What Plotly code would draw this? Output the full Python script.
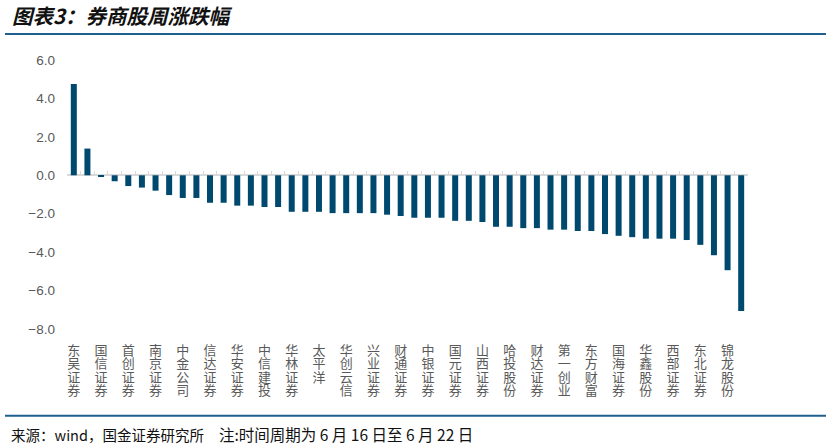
import plotly.graph_objects as go

# ---- data ----
labels = ["东吴证券", "国信证券", "首创证券", "南京证券", "中金公司", "信达证券", "华安证券",
          "中信建投", "华林证券", "太平洋", "华创云信", "兴业证券", "财通证券", "中银证券",
          "国元证券", "山西证券", "哈投股份", "财达证券", "第一创业", "东方财富", "国海证券",
          "华鑫股份", "西部证券", "东北证券", "锦龙股份"]
values = [4.75, 1.39, -0.09, -0.31, -0.56, -0.64, -0.80, -1.03, -1.18, -1.18,
          -1.43, -1.43, -1.58, -1.58, -1.65, -1.65, -1.90, -1.90, -1.90, -1.97,
          -1.97, -1.97, -1.97, -2.05, -2.12, -2.21, -2.21, -2.21, -2.37, -2.37,
          -2.43, -2.68, -2.68, -2.75, -2.75, -2.83, -2.83, -2.90, -2.90, -3.06,
          -3.15, -3.22, -3.30, -3.30, -3.30, -3.37, -3.62, -4.16, -4.94, -7.06]
y_ticks = [-8, -6, -4, -2, 0, 2, 4, 6]
title_text = "图表3：券商股周涨跌幅"
source_text = "来源：wind，国金证券研究所"
note_text = "注:时间周期为 6 月 16 日至 6 月 22 日"

# ---- geometry ----
W, H = 831, 447
L, R, T, B = 67, 83, 60, 118
pw, ph = W - L - R, H - T - B
ymin, ymax = -8, 6
def px_x(x): return (x - L) / pw
def px_y(y): return (H - B - y) / ph

n = len(values)
pos = list(range(1, n + 1))
label_pos = pos[::2][:len(labels)]
xr = [0.5, n + 0.5]

BAR = "#00496e"
GRAY = "#595959"
LINE = "#1f5f8e"
FONT = "Noto Sans CJK SC"

fig = go.Figure()
fig.add_trace(go.Bar(x=pos, y=values, marker_color=BAR, marker_line_width=0,
                     hoverinfo="skip", showlegend=False))
# invisible helpers for overlay axes
for k in range(2, 6):
    fig.add_trace(go.Scatter(x=pos, y=values, xaxis=f"x{k}", yaxis="y", mode="markers",
                             marker=dict(opacity=0), hoverinfo="skip", showlegend=False))

rows = [[lab[i] if i < len(lab) else "" for lab in labels] for i in range(4)]
standoffs = [12, 25, 39, 52]

base_axis = dict(range=xr, showgrid=False, zeroline=False, showline=False, ticks="",
                 tickfont=dict(family=FONT, size=13, color=GRAY))
fig.update_layout(
    xaxis=dict(**base_axis, tickmode="array", tickvals=label_pos, ticktext=rows[0],
               ticklabelstandoff=standoffs[0]),
    xaxis2=dict(range=xr, overlaying="x", anchor="free", position=(0 - ymin) / (ymax - ymin),
                side="bottom", showgrid=False, zeroline=False, showline=False,
                ticks="inside", ticklen=4, tickwidth=1, tickcolor="#d9d9d9",
                tickmode="array", tickvals=[p - 0.5 for p in pos] + [n + 0.5],
                showticklabels=False),
)
for k, r in zip(range(3, 6), rows[1:]):
    fig.update_layout(**{f"xaxis{k}": dict(**base_axis, overlaying="x", anchor="y", side="bottom",
                                           tickmode="array", tickvals=label_pos, ticktext=r,
                                           ticklabelstandoff=standoffs[k - 2])})

fig.update_layout(
    yaxis=dict(range=[ymin, ymax], tickmode="array", tickvals=y_ticks, tickformat=".1f",
               showgrid=False, showline=False, ticks="", zeroline=True,
               zerolinecolor="#d9d9d9", zerolinewidth=1.5,
               tickfont=dict(family="Liberation Sans", size=13.5, color=GRAY),
               ticklabelstandoff=11),
    width=W, height=H, margin=dict(l=L, r=R, t=T, b=B),
    paper_bgcolor="white", plot_bgcolor="white", bargap=0.56,
    shapes=[
        dict(type="line", xref="paper", yref="paper", x0=px_x(5), x1=px_x(826),
             y0=px_y(34), y1=px_y(34), line=dict(color=LINE, width=2)),
        dict(type="line", xref="paper", yref="paper", x0=px_x(5), x1=px_x(826),
             y0=px_y(415.7), y1=px_y(415.7), line=dict(color=LINE, width=2)),
    ],
    annotations=[
        dict(text=f"<b><i>{title_text}</i></b>", xref="paper", yref="paper",
             x=px_x(10), y=px_y(15), xanchor="left", yanchor="middle", showarrow=False,
             font=dict(family=FONT, size=20.5, color="#111111")),
        dict(text=source_text, xref="paper", yref="paper",
             x=px_x(9), y=px_y(434), xanchor="left", yanchor="middle", showarrow=False,
             font=dict(family=FONT, size=14.5, color="#111111")),
        dict(text=note_text, xref="paper", yref="paper",
             x=px_x(217), y=px_y(434), xanchor="left", yanchor="middle", showarrow=False,
             font=dict(family=FONT, size=15.5, color="#111111")),
    ],
)
fig.write_html("out.html", config={"displayModeBar": False},
               post_script="document.body.style.margin='0';document.body.style.padding='0';")
